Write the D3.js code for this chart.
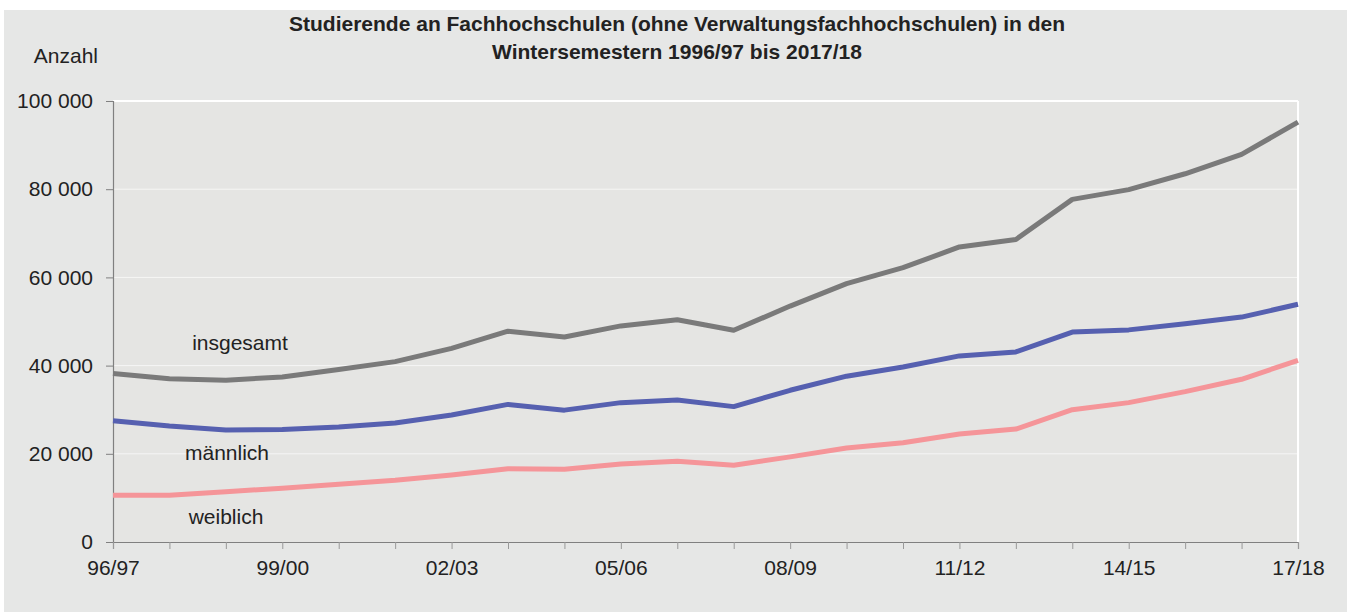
<!DOCTYPE html>
<html>
<head>
<meta charset="utf-8">
<script src="https://cdn.jsdelivr.net/npm/d3@7"></script>
<style>
  body { margin: 0; background: #fff; }
  svg { display: block; font-family: "Liberation Sans", Arial, sans-serif; }
</style>
</head>
<body>
<svg width="1347" height="612"></svg>
<script>
const semester = ["96/97","97/98","98/99","99/00","00/01","01/02","02/03","03/04","04/05","05/06","06/07",
  "07/08","08/09","09/10","10/11","11/12","12/13","13/14","14/15","15/16","16/17","17/18"]

const insgesamt = [38.2, 37.0, 36.7, 37.4, 39.1, 40.9, 43.9, 47.8, 46.5, 49.0, 50.4,
  48.0, 53.5, 58.6, 62.2, 66.9, 68.6, 77.7, 79.9, 83.5, 87.9, 95.2].map(v => v * 1000)
const maennlich = [27.5, 26.3, 25.4, 25.5, 26.1, 27.0, 28.8, 31.2, 29.9, 31.6, 32.2,
  30.7, 34.4, 37.6, 39.7, 42.2, 43.1, 47.6, 48.1, 49.5, 51.0, 53.9].map(v => v * 1000)
const weiblich = [10.6, 10.6, 11.4, 12.2, 13.1, 14.0, 15.2, 16.6, 16.5, 17.7, 18.3,
  17.4, 19.3, 21.3, 22.5, 24.5, 25.6, 30.0, 31.6, 34.1, 36.9, 41.2].map(v => v * 1000)

const yTicks = [0, 20000, 40000, 60000, 80000, 100000]
const xLabelEvery = 3

const series = [
  { name: "insgesamt", values: insgesamt, color: "#7a7a7a", label: [240, 344] },
  { name: "männlich", values: maennlich, color: "#5660b0", label: [227, 454] },
  { name: "weiblich", values: weiblich, color: "#f59599", label: [226, 518] },
]

const fontSize = 21

const svg = d3.select("svg")
const plot = { left: 113, right: 1298, top: 101, bottom: 542 }

svg.append("rect")
  .attr("x", 4).attr("y", 10).attr("width", 1343).attr("height", 602)
  .attr("fill", "#e6e7e6")

svg.append("rect")
  .attr("x", plot.left).attr("y", plot.top)
  .attr("width", plot.right - plot.left).attr("height", plot.bottom - plot.top)
  .attr("fill", "#e5e5e3")

const x = d3.scalePoint().domain(semester).range([plot.left, plot.right])
const y = d3.scaleLinear().domain([0, 100000]).range([plot.bottom, plot.top])

// grid
svg.append("g")
  .selectAll("line")
  .data(yTicks.filter(d => d > 0))
  .enter()
  .append("line")
    .attr("x1", plot.left).attr("x2", plot.right)
    .attr("y1", d => y(d)).attr("y2", d => y(d))
    .attr("stroke", d => d === 100000 ? "#ffffff" : "#f6f6f5")
    .attr("stroke-width", d => d === 100000 ? 2 : 1)

svg.append("line")
  .attr("x1", plot.right).attr("x2", plot.right).attr("y1", plot.top).attr("y2", plot.bottom)
  .attr("stroke", "#ffffff").attr("stroke-width", 2)

const fmt = d => d3.format(",")(d).replace(/,/g, " ")

const yAxis = svg.append("g")
  .attr("transform", `translate(${plot.left},0)`)
  .call(d3.axisLeft(y).tickValues(yTicks).tickFormat(fmt).tickSize(7).tickPadding(13))
yAxis.select(".domain").attr("stroke", "#808080").attr("stroke-width", 1.2)
yAxis.selectAll(".tick line").attr("stroke", "#808080")
yAxis.selectAll("text").attr("font-size", fontSize).attr("fill", "#222")
yAxis.attr("font-family", null)

const xAxis = svg.append("g")
  .attr("transform", `translate(0,${plot.bottom})`)
  .call(d3.axisBottom(x).tickSize(7).tickPadding(11)
    .tickFormat((d, i) => i % xLabelEvery === 0 ? d : ""))
xAxis.select(".domain").attr("stroke", "#808080").attr("stroke-width", 1.2)
xAxis.selectAll(".tick line").attr("stroke", "#999")
xAxis.selectAll("text").attr("font-size", fontSize).attr("fill", "#222")
xAxis.attr("font-family", null)

const line = d3.line()
  .x((d, i) => x(semester[i]))
  .y(d => y(d))

svg.append("g")
  .selectAll("path")
  .data(series)
  .enter()
  .append("path")
    .attr("d", d => line(d.values))
    .attr("fill", "none")
    .attr("stroke", d => d.color)
    .attr("stroke-width", 5)
    .attr("stroke-linejoin", "round")

svg.append("g")
  .selectAll("text")
  .data(series)
  .enter()
  .append("text")
    .attr("x", d => d.label[0])
    .attr("y", d => d.label[1])
    .attr("text-anchor", "middle")
    .attr("dominant-baseline", "middle")
    .attr("font-size", fontSize)
    .attr("fill", "#222")
    .text(d => d.name)

svg.append("text")
  .attr("x", 98).attr("y", 63)
  .attr("text-anchor", "end")
  .attr("font-size", fontSize).attr("fill", "#222")
  .text("Anzahl")

const title = svg.append("text")
  .attr("text-anchor", "middle")
  .attr("font-size", fontSize).attr("font-weight", "bold").attr("fill", "#222")
title.append("tspan").attr("x", 677).attr("y", 31)
  .text("Studierende an Fachhochschulen (ohne Verwaltungsfachhochschulen) in den")
title.append("tspan").attr("x", 677).attr("y", 59)
  .text("Wintersemestern 1996/97 bis 2017/18")
</script>
</body>
</html>
